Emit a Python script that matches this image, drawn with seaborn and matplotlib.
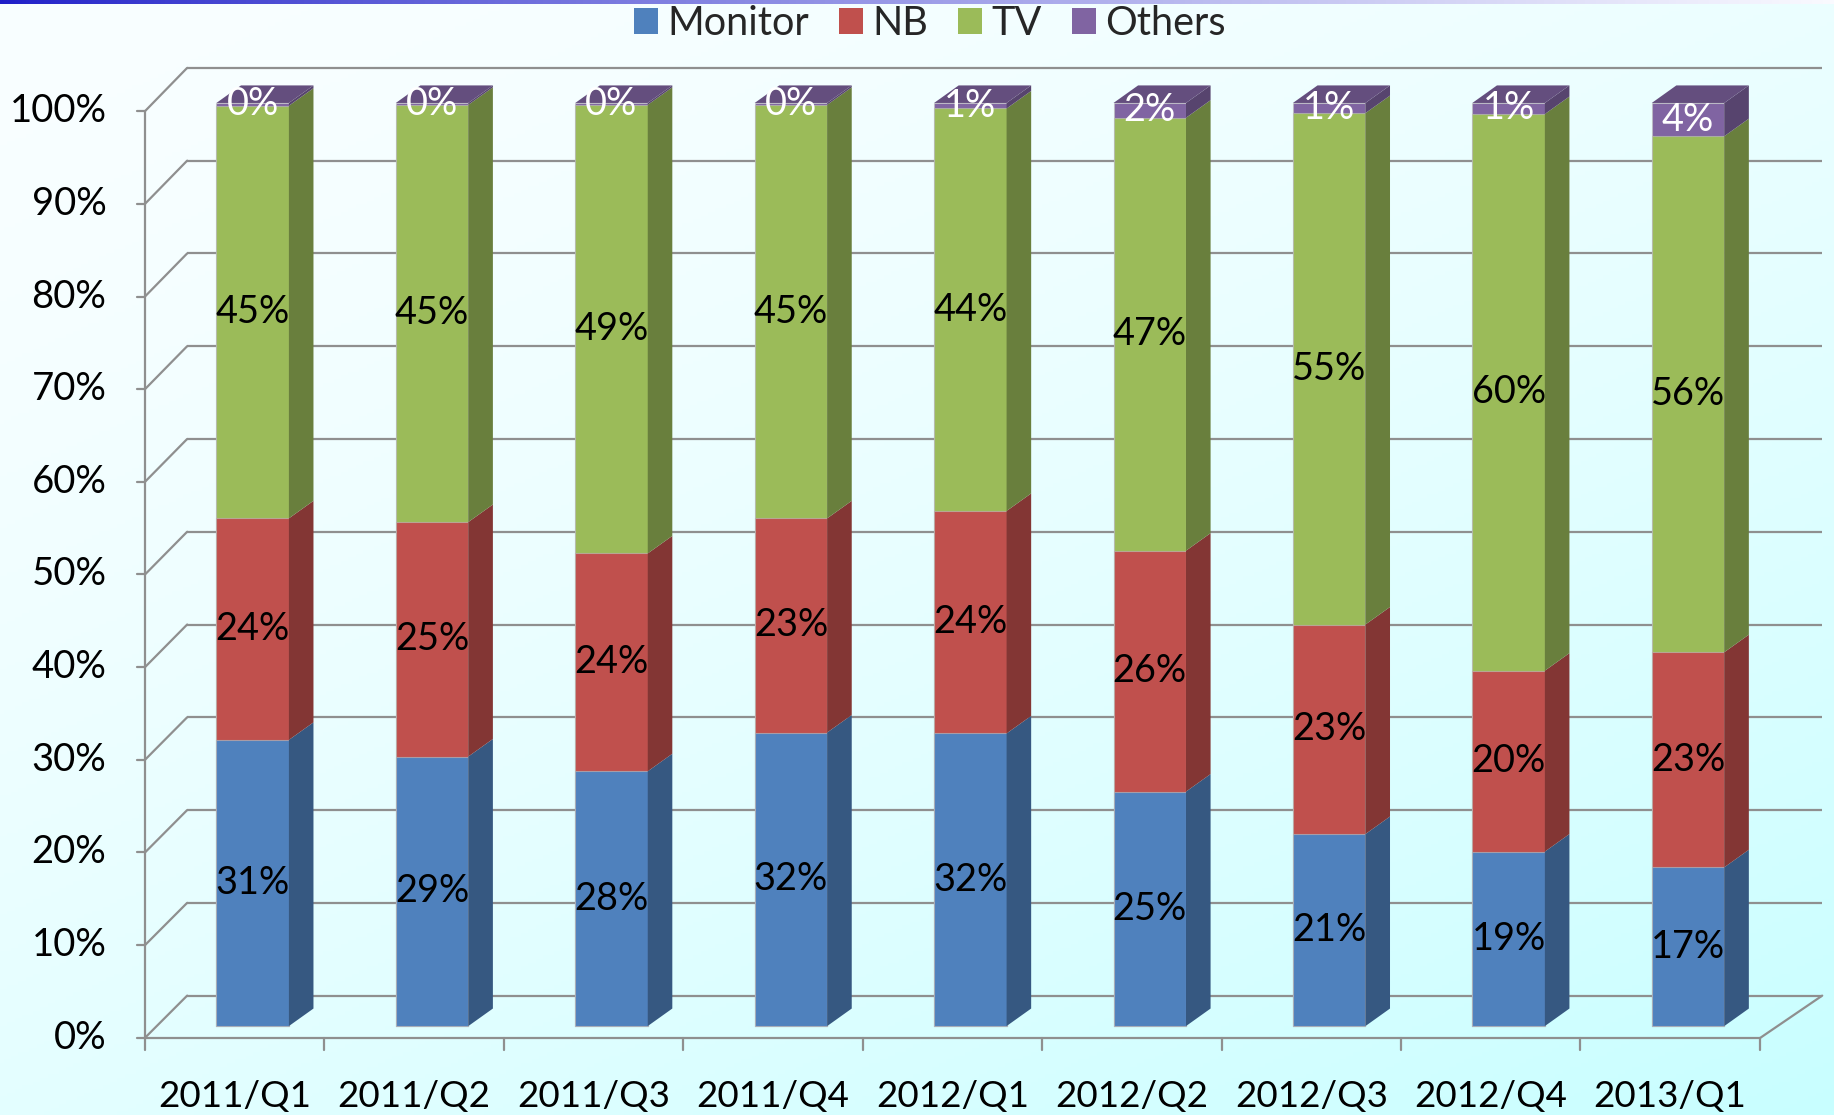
import numpy as np
import pandas as pd
import matplotlib
matplotlib.use("Agg")
import matplotlib.pyplot as plt
import seaborn as sns
from matplotlib.patches import Polygon, Patch
from matplotlib.colors import to_rgb

# ---------------- data ----------------
categories = ["2011/Q1", "2011/Q2", "2011/Q3", "2011/Q4", "2012/Q1",
              "2012/Q2", "2012/Q3", "2012/Q4", "2013/Q1"]
monitor = [31.0, 29.2, 27.6, 31.8, 31.7, 25.4, 20.8, 18.9, 17.2]
nb      = [24.0, 25.4, 23.6, 23.2, 24.1, 26.1, 22.7, 19.6, 23.3]
tv      = [44.7, 45.2, 48.6, 44.8, 43.6, 46.9, 55.4, 60.3, 55.9]
others  = [0.3, 0.2, 0.2, 0.2, 0.6, 1.6, 1.1, 1.2, 3.6]
series_names = ["Monitor", "NB", "TV", "Others"]
y_ticks = [0, 10, 20, 30, 40, 50, 60, 70, 80, 90, 100]

# ---------------- style ----------------
colors = {"Monitor": "#4F81BD", "NB": "#C0504D", "TV": "#9BBB59", "Others": "#8064A2"}
label_colors = {"Monitor": "black", "NB": "black", "TV": "black", "Others": "white"}
GRID = "#8f8f8f"
FONT = "Lato"
FS_YT = 27.5
FS_XT = 26.5
FS_LBL = 27.3
FS_LEG = 28.5

sns.set_theme(style="white")
plt.rcParams["font.family"] = [FONT, "DejaVu Sans"]

def shade(c, f):
    r, g, b = to_rgb(c)
    return (r * f, g * f, b * f)

df = pd.DataFrame({"cat": categories, "Monitor": monitor, "NB": nb,
                   "TV": tv, "Others": others})
cum = df[series_names].cumsum(axis=1)
bottoms = cum.shift(1, axis=1).fillna(0)

# geometry (data units: 1 = one category slot horizontally, 1 = 1 % vertically)
BAR_W = 0.404
DXB, DYB = 0.137, 1.9          # bar depth offset
FX0, FX1 = -0.600, 8.403        # front plane x extent
FY0, FS_ = -1.27, 1.0038        # front plane: y = FY0 + v*FS_
BX0, BX1 = -0.365, 8.748        # back wall x extent
BY0, BS_ = 3.30, 1.005          # back wall: y = BY0 + v*BS_
XLIM = (-216 / 153.4, (1568 - 216) / 153.4)
YLIM = ((877 - 953) / 7.89, 877 / 7.89)

fig = plt.figure(figsize=(18.34, 11.15), dpi=100)
ax = fig.add_axes([0, 0, 1, 1])
ax.set_axis_off()

# background gradient
H, W = 300, 500
u = np.linspace(0, 1, W)[None, :]
v = np.linspace(0, 1, H)[:, None]   # 0 at top row
t = np.clip((0.55 * u + 0.75 * v) / 1.3, 0, 1) ** 1.5
c0 = np.array([249, 254, 255]) / 255
c1 = np.array([200, 255, 255]) / 255
grad = c0[None, None, :] * (1 - t[..., None]) + c1[None, None, :] * t[..., None]
ax.imshow(grad, extent=(XLIM[0], XLIM[1], YLIM[0], YLIM[1]), aspect="auto",
          zorder=0, origin="upper")
# top blue stripe
stripe = np.zeros((1, W, 3))
s = u[0] ** 0.8
stripe[0] = np.array([30, 30, 200]) / 255 * (1 - s[:, None]) + np.array([250, 250, 255]) / 255 * s[:, None]
stripe_h = 4.5 / 1115 * (YLIM[1] - YLIM[0])
ax.imshow(stripe, extent=(XLIM[0], XLIM[1], YLIM[1] - stripe_h, YLIM[1]),
          aspect="auto", zorder=0.5)

# back wall gridlines and left-side diagonals
for val in y_ticks:
    by = BY0 + val * BS_
    fy = FY0 + val * FS_
    ax.plot([BX0, BX1], [by, by], color=GRID, lw=1.6, zorder=1, solid_capstyle="butt")
    ax.plot([FX0, BX0], [fy, by], color=GRID, lw=1.6, zorder=1)
    ax.plot([FX0 - 0.045, FX0], [fy, fy], color=GRID, lw=1.6, zorder=1)
    ax.text(-0.815, fy, f"{val}%", ha="right", va="center", fontsize=FS_YT,
            color="black", zorder=5)
# front vertical axis
ax.plot([FX0, FX0], [FY0, FY0 + 100 * FS_], color=GRID, lw=1.6, zorder=1)
# floor front edge, right diagonal, ticks
ax.plot([FX0, FX1], [FY0, FY0], color=GRID, lw=1.6, zorder=1)
ax.plot([FX1, BX1], [FY0, BY0], color=GRID, lw=1.6, zorder=1)
for k in range(len(categories) + 1):
    xk = FX0 + k
    ax.plot([xk, xk], [FY0, FY0 - 1.35], color=GRID, lw=1.6, zorder=1)
for k, cat in enumerate(categories):
    ax.text(FX0 + k + 0.5, -7.6, cat, ha="center", va="center", fontsize=FS_XT,
            color="black", zorder=5)

# front faces via seaborn (overlapping cumulative bars, drawn top-down)
for name in reversed(series_names):
    sns.barplot(data=cum.assign(cat=categories), x="cat", y=name,
                color=colors[name], saturation=1, width=BAR_W, errorbar=None,
                edgecolor=(0.75, 0.75, 0.75, 0.6), linewidth=0.8, ax=ax, zorder=2)

# side faces and top faces
for i in range(len(categories)):
    xr = i + BAR_W / 2
    xl = i - BAR_W / 2
    for name in series_names:
        b = bottoms.loc[i, name]
        tp = cum.loc[i, name]
        if tp - b <= 0:
            continue
        poly = Polygon([(xr, b), (xr + DXB, b + DYB), (xr + DXB, tp + DYB), (xr, tp)],
                       closed=True, facecolor=shade(colors[name], 0.68),
                       edgecolor="none", zorder=2)
        ax.add_patch(poly)
    T = cum.loc[i, "Others"]
    top = Polygon([(xl, T), (xl + DXB, T + DYB), (xr + DXB, T + DYB), (xr, T)],
                  closed=True, facecolor=shade(colors["Others"], 0.78),
                  edgecolor="none", zorder=2)
    ax.add_patch(top)
    # data labels
    for name in series_names:
        b = bottoms.loc[i, name]
        tp = cum.loc[i, name]
        val = df.loc[i, name]
        ax.text(i, (b + tp) / 2, f"{val:.0f}%", ha="center", va="center",
                fontsize=FS_LBL, color=label_colors[name], zorder=6)

ax.set_xlim(*XLIM)
ax.set_ylim(*YLIM)
ax.set_axis_off()

handles = [Patch(facecolor=colors[n], edgecolor="none", label=n) for n in series_names]
fig.legend(handles=handles, loc="center", bbox_to_anchor=(0.507, 0.979), ncol=4,
           frameon=False, fontsize=FS_LEG, handlelength=0.6, handleheight=0.6,
           handletextpad=0.25, columnspacing=0.75, borderaxespad=0)

fig.savefig("out.png", dpi=100)
